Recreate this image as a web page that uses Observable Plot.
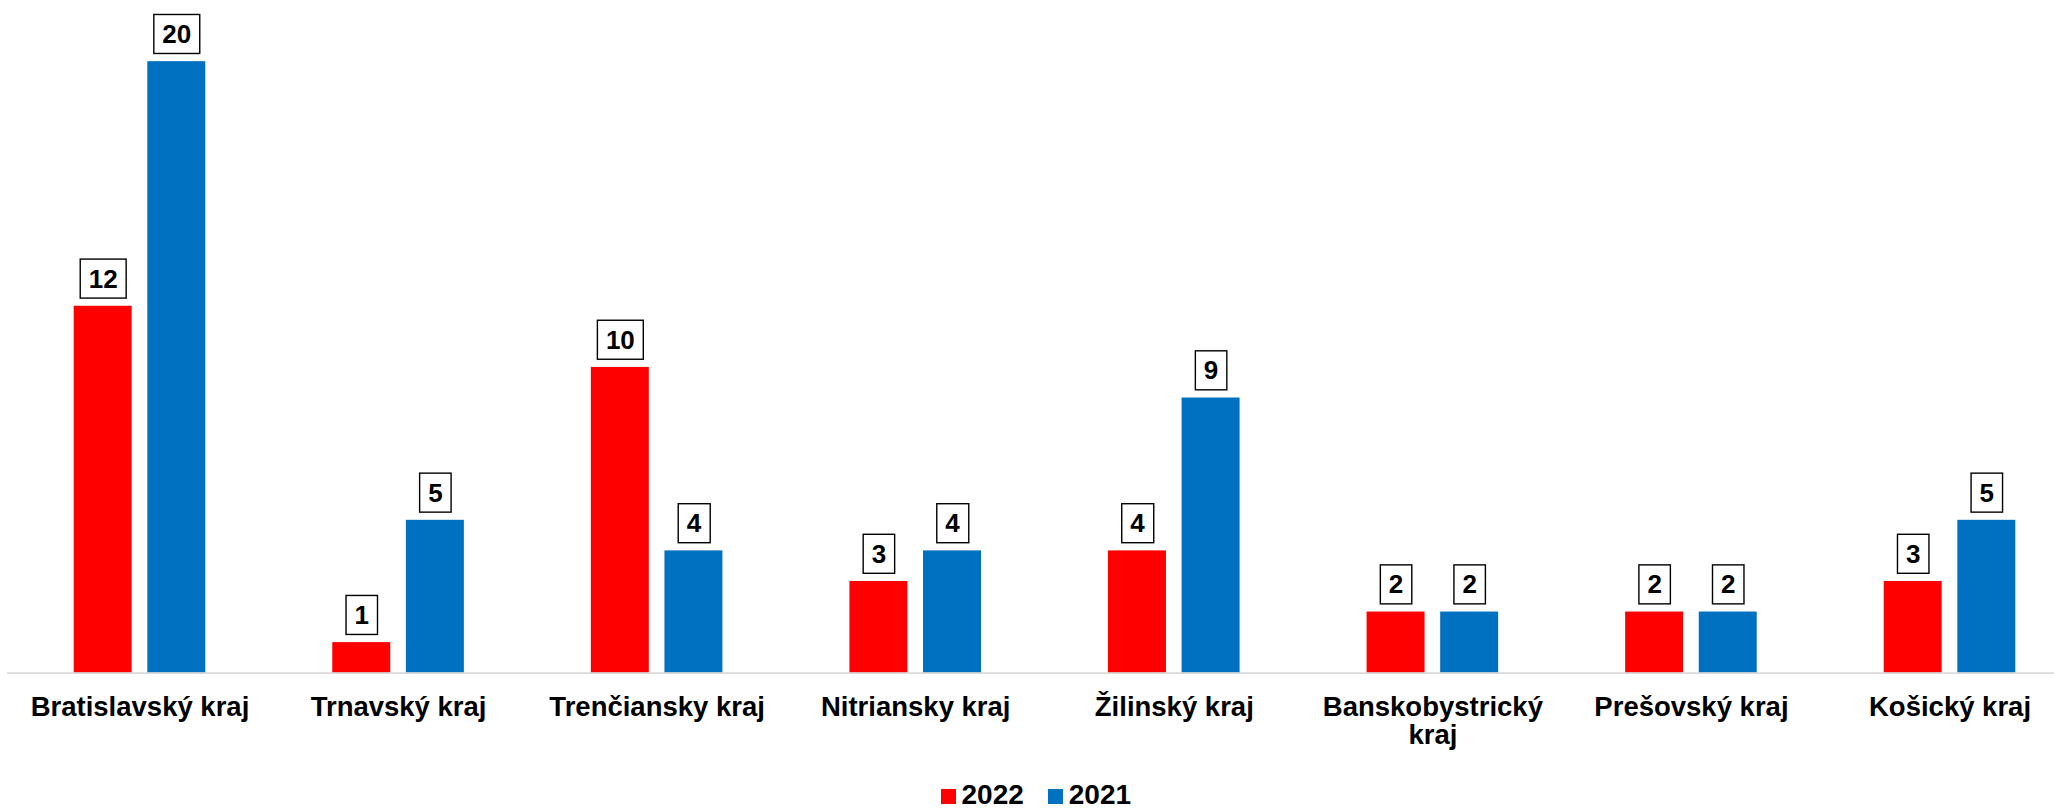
<!DOCTYPE html>
<html>
<head>
<meta charset="utf-8">
<script src="https://cdn.jsdelivr.net/npm/d3@7"></script>
<script src="https://cdn.jsdelivr.net/npm/@observablehq/plot@0.6"></script>
<style>
  html, body { margin: 0; padding: 0; background: #ffffff; }
  body { font-family: "Liberation Sans", Arial, sans-serif; }
  #chart { position: relative; width: 2054px; height: 809px; overflow: hidden; }
  #chart svg { display: block; }
  #legend { position: absolute; left: 940.5px; top: 781.4px; height: 28px; display: flex; align-items: center;
            font-family: "Liberation Sans", Arial, sans-serif; font-weight: bold; font-size: 28px; line-height: 28px; color: #000; }
  #legend .sw { width: 15px; height: 15px; margin-right: 6px; position: relative; top: 1.4px; }
  #legend .item { display: flex; align-items: center; margin-right: 24px; }
</style>
</head>
<body>
<div id="chart"></div>
<script>
// ---- data ----
const regions = ["Bratislavský kraj", "Trnavský kraj", "Trenčiansky kraj", "Nitriansky kraj",
                 "Žilinský kraj", "Banskobystrický kraj", "Prešovský kraj", "Košický kraj"];
const values2022 = [12, 1, 10, 3, 4, 2, 2, 3];
const values2021 = [20, 5, 4, 4, 9, 2, 2, 5];
const series = ["2022", "2021"];
const seriesColors = ["#ff0000", "#0070c0"];

const rows2022 = regions.map((r, i) => ({region: r, year: series[0], value: values2022[i]}));
const rows2021 = regions.map((r, i) => ({region: r, year: series[1], value: values2021[i]}));

const FONT = "Liberation Sans, Arial, sans-serif";

const svg = Plot.plot({
  width: 2054,
  height: 770,
  marginTop: 0,
  marginBottom: 97.3,
  marginLeft: 7,
  marginRight: 0,
  style: {fontFamily: FONT, background: "#ffffff", color: "#000"},
  x: {type: "band", domain: regions, range: [10.2, 2078.8], padding: 0, round: false, label: null, axis: null},
  y: {domain: [0, 22], axis: null},
  color: {domain: series, range: seriesColors},
  marks: [
    Plot.barY(rows2022, {x: "region", y: "value", fill: "year", insetLeft: 63.5, insetRight: 137.1}),
    Plot.barY(rows2021, {x: "region", y: "value", fill: "year", insetLeft: 137.1, insetRight: 63.5}),
    Plot.ruleY([0], {stroke: "#d9d9d9", strokeWidth: 1.8}),
    Plot.axisX({tickSize: 0, tickPadding: 23.3, fontSize: 27.5, fontWeight: "bold", fill: "#000",
                lineWidth: 9, label: null}),
    Plot.text(rows2022, {x: "region", y: "value", text: "value", dx: -36.8, dy: -27,
                         fontSize: 26, fontWeight: "bold", fill: "#000"}),
    Plot.text(rows2021, {x: "region", y: "value", text: "value", dx: 36.8, dy: -27,
                         fontSize: 26, fontWeight: "bold", fill: "#000"})
  ]
});

const chart = document.getElementById("chart");
chart.append(svg);

// boxed data labels
svg.querySelectorAll('g[aria-label="text"] text').forEach(t => {
  const b = t.getBBox();
  const cy = b.y + b.height / 2;
  const r = document.createElementNS("http://www.w3.org/2000/svg", "rect");
  r.setAttribute("x", b.x - 8.5);
  r.setAttribute("width", b.width + 17);
  r.setAttribute("y", cy - 19.5);
  r.setAttribute("height", 39);
  r.setAttribute("fill", "#ffffff");
  r.setAttribute("stroke", "#000000");
  r.setAttribute("stroke-width", 1.4);
  if (t.getAttribute("transform")) r.setAttribute("transform", t.getAttribute("transform"));
  t.parentNode.insertBefore(r, t);
});

// legend
const legend = document.createElement("div");
legend.id = "legend";
series.forEach((s, i) => {
  const item = document.createElement("div");
  item.className = "item";
  const sw = document.createElement("div");
  sw.className = "sw";
  sw.style.background = seriesColors[i];
  const lab = document.createElement("span");
  lab.textContent = s;
  item.append(sw, lab);
  legend.append(item);
});
chart.append(legend);
</script>
</body>
</html>
